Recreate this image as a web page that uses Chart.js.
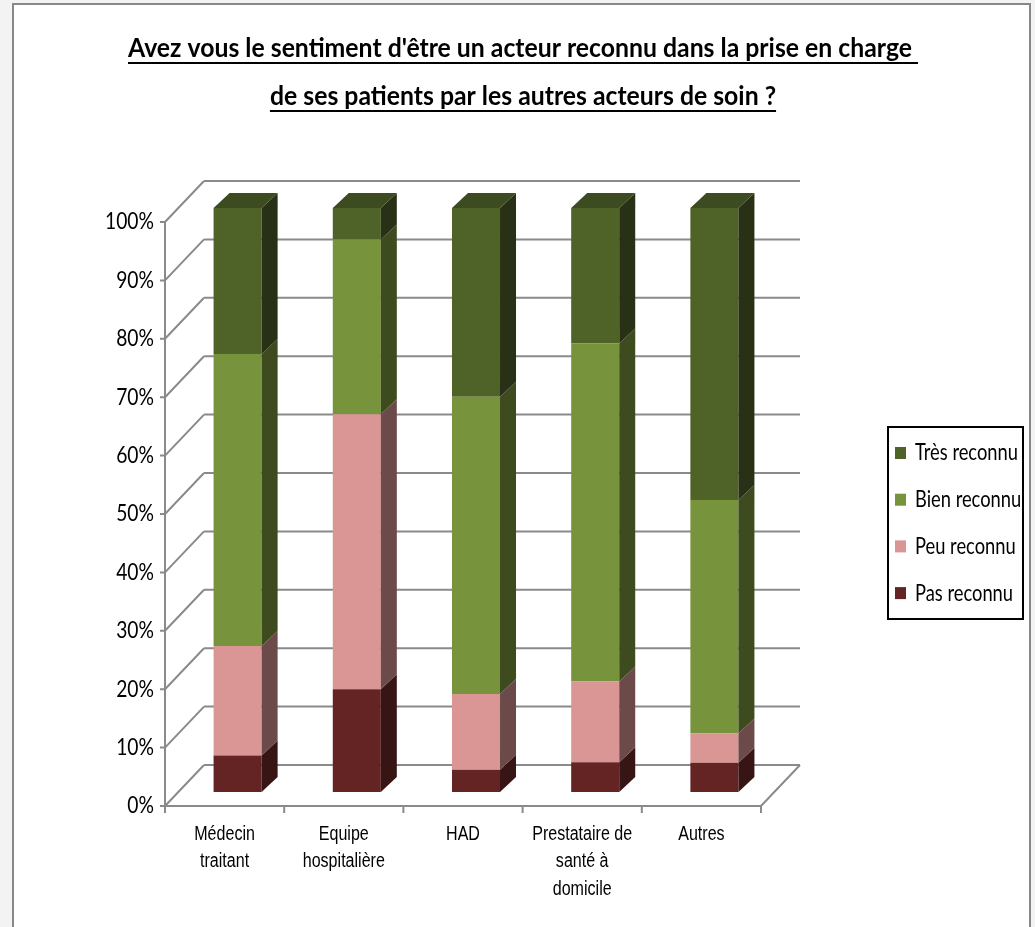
<!DOCTYPE html>
<html>
<head>
<meta charset="utf-8">
<script src="https://cdn.jsdelivr.net/npm/chart.js@4"></script>
<style>
  html, body { margin: 0; padding: 0; background: #f3f3f3; }
  #wrap { position: relative; width: 1035px; height: 927px; overflow: hidden; }
  #frame { position: absolute; left: 12px; top: 3px; width: 1015px; height: 1000px;
           border: 2px solid #888; background: #fff; }
  #holder { position: absolute; left: 0; top: 0; width: 1035px; height: 927px; }
</style>
</head>
<body>
<div id="wrap">
  <div id="frame"></div>
  <div id="holder"><canvas id="chart"></canvas></div>
</div>
<script>
// Data (percent of answers)
const categories = [['Médecin', 'traitant'], ['Equipe', 'hospitalière'], ['HAD'], ['Prestataire de', 'santé à', 'domicile'], ['Autres']];
const pasReconnu  = [6.25, 17.6, 3.8, 5.1, 5];
const peuReconnu  = [18.75, 47.1, 13, 13.8, 5];
const bienReconnu = [50, 29.9, 50.9, 57.9, 40];
const tresReconnu = [25, 5.4, 32.3, 23.2, 50];
const yTicks = [0, 10, 20, 30, 40, 50, 60, 70, 80, 90, 100];
const titleLines = ["Avez vous le sentiment d'être un acteur reconnu dans la prise en charge ", "de ses patients par les autres acteurs de soin ?"];

// 3D look
const depth = { dx: 16, dy: -15 };   // thickness of a bar
const back = { dx: 26, dy: -27 };    // bar plane -> back wall
const front = { dx: -13, dy: 14 };   // bar plane -> front edge
const sideColors = ['#361514', '#6d4a4a', '#3d4b1f', '#283016'];
const topColor = '#3d4b21';
const gridColor = '#8a8a8a';

function fitText(ctx, text, x, y, sx, align) {
    ctx.save();
    ctx.translate(x, y);
    ctx.scale(sx, 1);
    ctx.textAlign = align;
    ctx.fillText(text, 0, 0);
    ctx.restore();
}

const box3d = {
    id: 'box3d',
    beforeDatasetsDraw(chart) {
        const { ctx, chartArea: a, scales: { y } } = chart;
        ctx.save();
        ctx.strokeStyle = gridColor;
        ctx.lineWidth = 2;
        ctx.beginPath();
        yTicks.forEach(v => {
            const py = y.getPixelForValue(v);
            // back wall line
            ctx.moveTo(a.left + back.dx, py + back.dy);
            ctx.lineTo(a.right + back.dx, py + back.dy);
            // side wall line
            ctx.moveTo(a.left + front.dx, py + front.dy);
            ctx.lineTo(a.left + back.dx, py + back.dy);
            // tick
            ctx.moveTo(a.left + front.dx - 5, py + front.dy);
            ctx.lineTo(a.left + front.dx, py + front.dy);
        });
        const y0 = y.getPixelForValue(0), y100 = y.getPixelForValue(100);
        // front vertical axis
        ctx.moveTo(a.left + front.dx, y100 + front.dy);
        ctx.lineTo(a.left + front.dx, y0 + front.dy);
        // floor front + right edges
        ctx.moveTo(a.left + front.dx, y0 + front.dy);
        ctx.lineTo(a.right + front.dx, y0 + front.dy);
        ctx.lineTo(a.right + back.dx, y0 + back.dy);
        // category ticks
        const n = categories.length;
        for (let i = 0; i <= n; i++) {
            const px = a.left + front.dx + i * (a.right - a.left) / n;
            ctx.moveTo(px, y0 + front.dy);
            ctx.lineTo(px, y0 + front.dy + 7);
        }
        ctx.stroke();
        ctx.restore();
    },
    afterDatasetsDraw(chart) {
        const { ctx } = chart;
        const last = chart.data.datasets.length - 1;
        ctx.save();
        chart.data.datasets.forEach((ds, di) => {
            chart.getDatasetMeta(di).data.forEach(bar => {
                const p = bar.getProps(['x', 'y', 'base', 'width'], true);
                const xl = p.x - p.width / 2, xr = p.x + p.width / 2;
                const top = Math.min(p.y, p.base), bot = Math.max(p.y, p.base);
                ctx.fillStyle = sideColors[di];
                ctx.beginPath();
                ctx.moveTo(xr, top);
                ctx.lineTo(xr + depth.dx, top + depth.dy);
                ctx.lineTo(xr + depth.dx, bot + depth.dy);
                ctx.lineTo(xr, bot);
                ctx.closePath();
                ctx.fill();
                if (di === last) {
                    ctx.fillStyle = topColor;
                    ctx.beginPath();
                    ctx.moveTo(xl, top);
                    ctx.lineTo(xl + depth.dx, top + depth.dy);
                    ctx.lineTo(xr + depth.dx, top + depth.dy);
                    ctx.lineTo(xr, top);
                    ctx.closePath();
                    ctx.fill();
                }
            });
        });
        ctx.restore();
    },
    afterDraw(chart) {
        const { ctx, chartArea: a, scales: { x, y } } = chart;
        ctx.save();
        ctx.fillStyle = '#000';

        // y labels
        ctx.font = '23px Lato';
        ctx.textBaseline = 'middle';
        const ysx = 49 / ctx.measureText('100%').width;
        yTicks.forEach(v => {
            fitText(ctx, v + '%', a.left + front.dx - 11, y.getPixelForValue(v) + front.dy, ysx, 'right');
        });

        // category labels
        ctx.font = '20px "Liberation Sans"';
        const sx = 100 / ctx.measureText('Prestataire de').width;
        const y0 = y.getPixelForValue(0) + front.dy;
        categories.forEach((lines, i) => {
            const px = x.getPixelForValue(i) + front.dx;
            lines.forEach((t, k) => fitText(ctx, t, px, y0 + 28 + k * 27.5, sx, 'center'));
        });

        // title with underline
        ctx.font = 'bold 27px Lato';
        ctx.textBaseline = 'alphabetic';
        const tsx = 790 / ctx.measureText(titleLines[0]).width;
        const cx = 523;
        titleLines.forEach((t, k) => {
            const by = 57 + k * 48;
            fitText(ctx, t, cx, by, tsx, 'center');
            const w = ctx.measureText(t).width * tsx;
            ctx.fillRect(cx - w / 2, by + 5, w, 2);
        });

        // legend (top series first)
        const lx = 888, ly = 427, lw = 135, lh = 192;
        ctx.strokeStyle = '#000';
        ctx.lineWidth = 2;
        ctx.strokeRect(lx, ly, lw, lh);
        ctx.font = '23px Lato';
        ctx.textBaseline = 'middle';
        const lsx = 103 / ctx.measureText('Très reconnu').width;
        const ds = chart.data.datasets.slice().reverse();
        ds.forEach((d, k) => {
            const iy = 453 + k * 46.7;
            ctx.fillStyle = d.backgroundColor;
            ctx.fillRect(lx + 7, iy - 6, 11, 12);
            ctx.fillStyle = '#000';
            fitText(ctx, d.label, lx + 27, iy, lsx, 'left');
        });
        ctx.restore();
    }
};

new Chart(document.getElementById('chart'), {
    type: 'bar',
    data: {
        labels: categories,
        datasets: [
            { label: 'Pas reconnu', data: pasReconnu, backgroundColor: '#632423' },
            { label: 'Peu reconnu', data: peuReconnu, backgroundColor: '#d99694' },
            { label: 'Bien reconnu', data: bienReconnu, backgroundColor: '#77933c' },
            { label: 'Très reconnu', data: tresReconnu, backgroundColor: '#4f6228' }
        ]
    },
    options: {
        responsive: true,
        maintainAspectRatio: false,
        animation: false,
        layout: { padding: { left: 178, right: 261, top: 208, bottom: 135 } },
        datasets: { bar: { categoryPercentage: 1, barPercentage: 0.403, borderWidth: 0 } },
        plugins: {
            legend: { display: false },
            title: { display: false },
            tooltip: { enabled: false }
        },
        scales: {
            x: { stacked: true, display: false },
            y: { stacked: true, display: false, min: 0, max: 100 }
        }
    },
    plugins: [box3d]
});
</script>
</body>
</html>
